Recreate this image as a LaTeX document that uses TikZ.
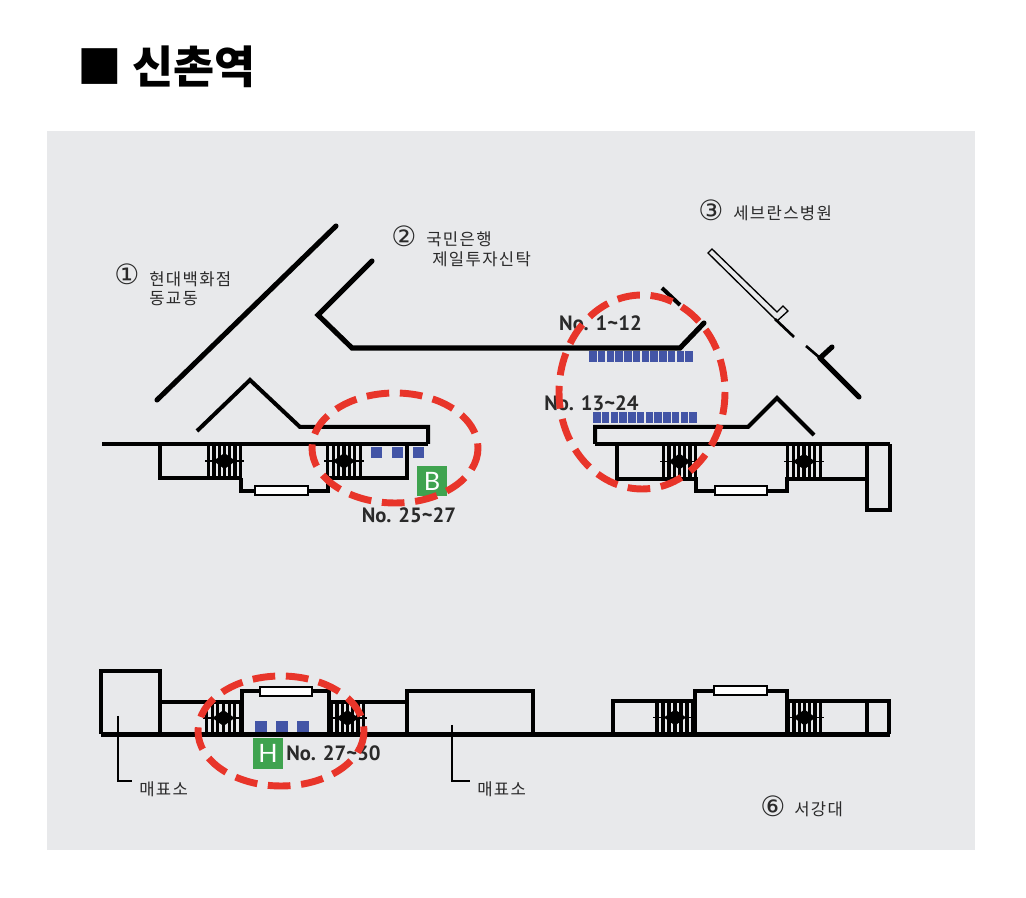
\documentclass[tikz,border=0pt]{standalone}
\usepackage{fontspec}
\setmainfont{Noto Sans CJK KR}
\newfontfamily\kofont[LetterSpace=8]{Noto Sans CJK KR}
\newfontfamily\latinlabel{PT Sans}
\newfontfamily\signfont{Lato}
\newfontfamily\circfont{DejaVu Sans}
\definecolor{panelgray}{HTML}{E8E9EB}
\definecolor{seatblue}{HTML}{4355A6}
\definecolor{signgreen}{HTML}{3FA34F}
\definecolor{ringred}{HTML}{E8352A}
\definecolor{labelgray}{HTML}{2A2A2A}
\tikzset{
  wall/.style={line width=2.5pt,line join=miter,black},
  heavy/.style={line width=3.8pt,line cap=round,black},
  mid/.style={line width=3pt,black},
  thin wall/.style={line width=1pt,black},
  window/.style={draw=black,fill=white,line width=1.6pt},
  seat/.style={fill=seatblue,draw=none},
  ring/.style={draw=ringred,line width=5.2pt,dash pattern=on 17pt off 8pt},
  ko/.style={font=\kofont\fontsize{12.5}{14}\selectfont,text=labelgray,inner sep=0pt,anchor=west},
  num/.style={font=\circfont\fontsize{21}{21}\selectfont,text=labelgray,inner sep=0pt},
  nolabel/.style={font=\latinlabel\bfseries\fontsize{15.5}{16}\selectfont,text=labelgray,inner sep=0pt},
  sign/.style={fill=signgreen,text=white,inner sep=0pt,font=\signfont\fontsize{19}{19}\selectfont,minimum width=23pt,minimum height=23pt},
}
% stairs: x0 x1 ytop ybottom
\newcommand{\stairflight}[4]{%
  \foreach \t in {0.05,0.2,0.35,0.5,0.65,0.8,0.95}
    \draw[line width=2.3pt,black] ({#1+\t*(#2-#1)},#3) -- ({#1+\t*(#2-#1)},#4);
  \draw[line width=1.4pt,black] ({#1-2},{(#3+#4)/2}) -- ({#2+2},{(#3+#4)/2});
  \fill[black] ({(#1+#2)/2-11},{(#3+#4)/2}) -- ({(#1+#2)/2},{(#3+#4)/2-8}) -- ({(#1+#2)/2+11},{(#3+#4)/2}) -- ({(#1+#2)/2},{(#3+#4)/2+8}) -- cycle;
}
% row of seats
\newcommand{\seatrow}[5]{%
  \foreach \i in {1,...,#5}
    \fill[seat] ({#1+(\i-1)*#3},#2) rectangle ++(#4,11);
}
\begin{document}
\begin{tikzpicture}[x=0.75pt,y=-0.75pt]
\useasboundingbox (0,0) rectangle (1026,898);
\fill[white] (0,0) rectangle (1026,898);
\fill[panelgray] (47,131) rectangle (975,850);

\node[inner sep=0pt,anchor=west,font=\bfseries\fontsize{33.5}{35}\selectfont] (title) at (77,67) {■ 신촌역};

% outer street lines
\draw[heavy] (336,226) -- (157,400);
\draw[heavy] (372,261) -- (318,315) -- (352,348) -- (680,348) -- (704,323);
\draw[mid] (662,288) -- (680,305);

% upper right building edge
\draw[thin wall,fill=panelgray] (708,253) -- (712,249) -- (777,312) -- (783,306) -- (788,311) -- (777,321) -- cycle;
\draw[mid,line width=2pt] (775,319) -- (794,337);
\draw[mid,line width=2pt] (806,346) -- (820,358);
\draw[heavy] (820,358) -- (859,397);
\draw[heavy] (820,358) -- (832,347);

% upper-left platform
\draw[wall,line width=2.8pt] (102,444) -- (428,444);
\draw[wall,line width=3pt] (428,444) -- (428,427) -- (300,427) -- (250,380) -- (197,431);
\draw[wall] (160,444) -- (160,478) -- (240,478);
\draw[wall] (241,478) -- (241,491) -- (328,491) -- (328,478) -- (407,478) -- (407,444);
\stairflight{207}{242}{444}{478}
\stairflight{326}{362}{444}{478}
\draw[window] (255,486) rectangle (308,495);

% upper-right platform
\draw[wall,line width=2.8pt] (595,444) -- (890,444);
\draw[wall,line width=3pt] (595,444) -- (595,427) -- (748,427) -- (777,398) -- (814,435);
\draw[wall] (617,444) -- (617,479) -- (696,479) -- (696,491) -- (787,491) -- (787,479) -- (865,479);
\stairflight{662}{697}{444}{479}
\stairflight{786}{822}{444}{479}
\draw[window] (715,486) rectangle (767,495);
\draw[wall] (867,444) -- (867,510) -- (890,510) -- (890,444);

% lower platform
\draw[wall] (101,734) -- (101,671) -- (160,671) -- (160,734);
\draw[wall] (160,702) -- (242,702);
\stairflight{205}{242}{702}{734}
\draw[wall] (242,734) -- (242,691) -- (329,691) -- (329,734);
\draw[window] (260,687) rectangle (312,696);
\stairflight{330}{365}{702}{734}
\draw[wall] (329,702) -- (407,702);
\draw[wall] (407,734) -- (407,691) -- (533,691) -- (533,734);
\draw[wall] (613,734) -- (613,701) -- (695,701);
\stairflight{655}{695}{701}{734}
\draw[wall] (695,734) -- (695,691) -- (787,691) -- (787,734);
\draw[window] (714,686) rectangle (767,695);
\stairflight{787}{822}{701}{734}
\draw[wall] (787,701) -- (889,701) -- (889,734);
\draw[wall] (867,701) -- (867,734);
\draw[mid,line width=3.6pt] (101,734.5) -- (890,734.5);

% leaders
\coordinate (lead1) at (118,716);
\coordinate (lead2) at (452,725);
\coordinate (lead1end) at (132,781);
\coordinate (lead2end) at (470,781);
\draw[line width=1.6pt] (lead1) -- (lead1 |- lead1end) -- (lead1end);
\draw[line width=1.6pt] (lead2) -- (lead2 |- lead2end) -- (lead2end);

% seats
\seatrow{371}{447}{21}{11}{3}
\seatrow{589}{351}{8.75}{7.6}{12}
\seatrow{593}{412}{8.75}{7.6}{12}
\seatrow{255}{721}{21}{12}{3}

% signs
\node[sign] (b) at (432,481) {B};
\node[sign] (h) at (268,753.5) {H};

% number labels
\node[nolabel] (n1) at (600.5,323) {No. 1\textasciitilde12};
\node[nolabel] (n2) at (591.5,403) {No. 13\textasciitilde24};
\node[nolabel] (n3) at (409,515) {No. 25\textasciitilde27};
\node[nolabel] (n4) at (333.5,753) {No. 27\textasciitilde30};

% place labels
\node[num] (c1) at (127,274) {①};
\node[ko] (t1a) at (149,279) {현대백화점};
\node[ko] (t1b) at (149,299) {동교동};
\node[num] (c2) at (404,236) {②};
\node[ko] (t2a) at (426,239) {국민은행};
\node[ko] (t2b) at (432,259) {제일투자신탁};
\node[num] (c3) at (711,210) {③};
\node[ko] (t3) at (733,213) {세브란스병원};
\node[num] (c6) at (773,806) {⑥};
\node[ko] (t6) at (794,809) {서강대};
\node[ko] (m1) at (139,789) {매표소};
\node[ko] (m2) at (477,789) {매표소};

% red rings
\draw[ring] (395,448) ellipse [x radius=83,y radius=55];
\draw[ring] (642,392) ellipse [x radius=83,y radius=97];
\draw[ring] (281,731) ellipse [x radius=83,y radius=55];
\end{tikzpicture}
\end{document}
